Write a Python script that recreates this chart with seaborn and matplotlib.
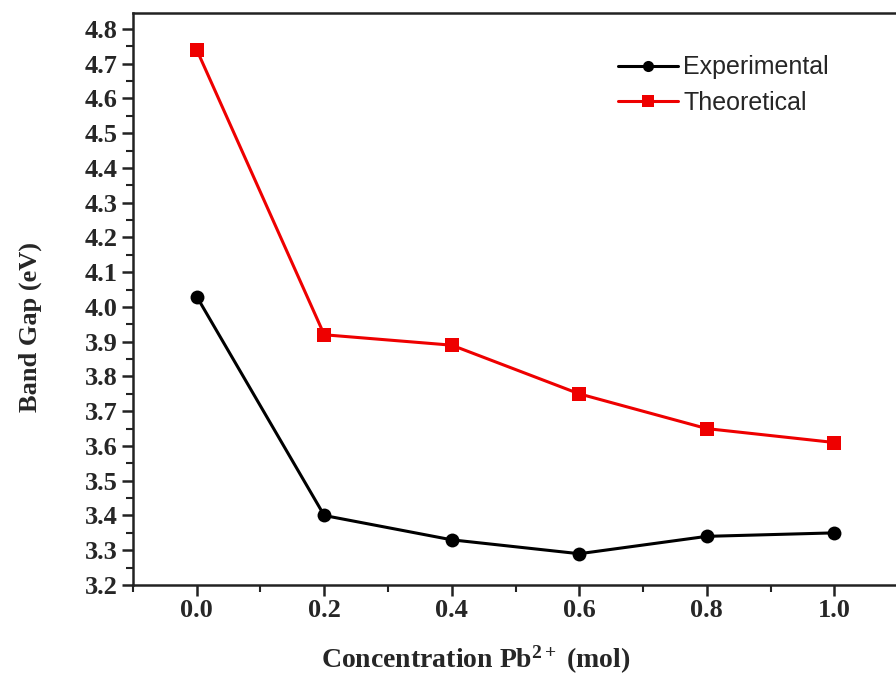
import matplotlib
matplotlib.use("Agg")
import matplotlib.pyplot as plt
import seaborn as sns
import pandas as pd
from matplotlib.ticker import MultipleLocator

concentration = [0.0, 0.2, 0.4, 0.6, 0.8, 1.0]
experimental = [4.03, 3.40, 3.33, 3.29, 3.34, 3.35]
theoretical = [4.74, 3.92, 3.89, 3.75, 3.65, 3.61]
series_names = ["Experimental", "Theoretical"]

df = pd.DataFrame({
    "x": concentration * 2,
    "y": experimental + theoretical,
    "series": [series_names[0]] * len(concentration) + [series_names[1]] * len(concentration),
})

sns.set_style("ticks")
plt.rcParams["mathtext.fontset"] = "custom"
plt.rcParams["mathtext.rm"] = "Liberation Serif:bold"
plt.rcParams["mathtext.bf"] = "Liberation Serif:bold"
plt.rcParams["mathtext.it"] = "Liberation Serif:bold"

fig = plt.figure(figsize=(8.96, 6.8), dpi=100)
ax = fig.add_axes([0.1484, 0.1397, 0.861, 0.8413])

sns.lineplot(data=df, x="x", y="y", hue="series", style="series",
             markers={"Experimental": "o", "Theoretical": "s"}, dashes=False,
             palette={"Experimental": "black", "Theoretical": "#ee0000"},
             linewidth=2.2, markersize=10, markeredgewidth=0, ax=ax)

ax.set_xlim(-0.1, 1.11)
ax.set_ylim(3.2, 4.846)
ax.xaxis.set_minor_locator(MultipleLocator(0.1))
ax.yaxis.set_minor_locator(MultipleLocator(0.05))

serif = ["Liberation Serif", "DejaVu Serif"]
xt = [0.0, 0.2, 0.4, 0.6, 0.8, 1.0]
ax.set_xticks(xt)
ax.set_xticklabels([f"{v:.1f}" for v in xt], fontfamily=serif, fontweight="bold", fontsize=19)
yt = [round(3.2 + 0.1 * i, 1) for i in range(17)]
ax.set_yticks(yt)
ax.set_yticklabels([f"{v:.1f}" for v in yt], fontfamily=serif, fontweight="bold", fontsize=19)

ax.tick_params(axis="both", which="major", direction="out", length=8, width=1.8, color="#222222")
ax.tick_params(axis="both", which="minor", direction="out", length=5, width=1.5, color="#222222")
ax.tick_params(axis="x", pad=2)
ax.tick_params(axis="y", pad=3)

for side in ["left", "bottom", "top", "right"]:
    ax.spines[side].set_linewidth(1.8)
    ax.spines[side].set_color("#222222")

ax.set_xlabel("Concentration Pb$^{2+}$ (mol)", fontfamily=serif, fontweight="bold", fontsize=20)
ax.set_ylabel("Band Gap (eV)", fontfamily=serif, fontweight="bold", fontsize=19)
ax.xaxis.set_label_coords(0.445, -0.131)
ax.xaxis.label.set_va("center")
ax.yaxis.set_label_coords(-0.1335, 0.451)
ax.yaxis.label.set_va("center")

leg = ax.legend(loc="upper left", bbox_to_anchor=(0.6, 0.965), frameon=False,
                prop={"family": "Liberation Sans", "size": 18},
                handlelength=2.4, handletextpad=0.2, labelspacing=0.45, markerscale=0.8)

fig.savefig("out.png", dpi=100)
